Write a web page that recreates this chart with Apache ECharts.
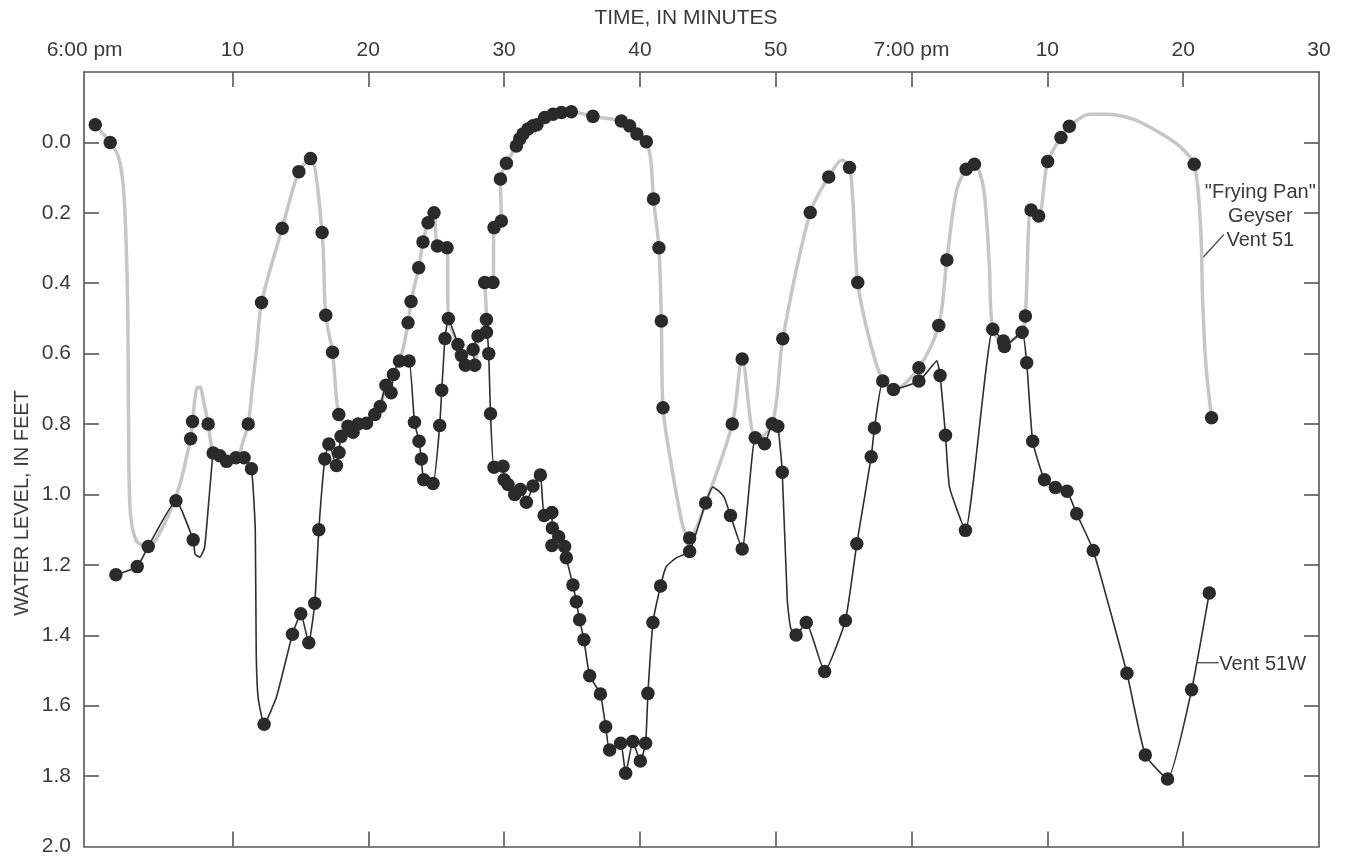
<!DOCTYPE html>
<html>
<head>
<meta charset="utf-8">
<title>Water level, Frying Pan Geyser</title>
<script src="https://cdn.jsdelivr.net/npm/echarts@6/dist/echarts.min.js"></script>
<style>
html,body{margin:0;padding:0;background:#fff;}
#chart{width:1349px;height:857px;}
</style>
</head>
<body>
<div id="chart"></div>
<script>
// ---------- DATA ----------
// x: minutes after 6:00 pm ; y: water level, in feet ; third value: 1 = plotted reading (dot), 0 = drawn curve only
const xLabelValues = [0, 10, 20, 30, 40, 50, 60, 70, 80, 90];
const xLabelTexts = ['6:00 pm', '10', '20', '30', '40', '50', '7:00 pm', '10', '20', '30'];
const xTickValues = [10, 20, 30, 40, 50, 60, 70, 80];
const yLabelValues = [0, 0.2, 0.4, 0.6, 0.8, 1.0, 1.2, 1.4, 1.6, 1.8, 2.0];
const yTickValues = [0, 0.2, 0.4, 0.6, 0.8, 1.0, 1.2, 1.4, 1.6, 1.8];

// "Frying Pan" Geyser, Vent 51 (grey curve)
const vent51Readings = [
  [-0.1,-0.05,1],[1.0,0.0,1],[1.6,0.04,0],[1.95,0.12,0],[2.15,0.26,0],[2.3,0.5,0],[2.37,0.9,0],
  [2.5,1.06,0],[2.9,1.13,0],[3.4,1.145,0],[3.8,1.148,0],[5.15,1.07,0],[6.1,0.975,0],[6.7,0.88,0],
  [6.92,0.842,1],[7.06,0.793,1],[7.35,0.70,0],[7.6,0.695,0],[7.9,0.74,0],[8.21,0.80,1],[8.4,0.85,0],
  [8.58,0.882,0],[9.07,0.89,0],[9.57,0.906,0],[10.25,0.896,0],[10.5,0.89,0],[10.7,0.86,0],
  [11.16,0.80,1],[11.45,0.70,0],[11.8,0.58,0],[12.14,0.455,1],[13.66,0.244,1],[14.89,0.083,1],
  [15.75,0.046,1],[16.6,0.256,1],[16.87,0.491,1],[17.37,0.596,1],[17.83,0.773,1],[18.51,0.806,0],
  [19.25,0.80,0],[19.87,0.798,0],[20.48,0.773,0],[20.88,0.75,0],[21.3,0.69,0],[21.85,0.659,0],
  [22.3,0.621,0],[22.6,0.58,0],[22.93,0.512,1],[23.15,0.452,1],[23.71,0.356,1],[24.03,0.283,1],
  [24.4,0.228,1],[24.84,0.20,1],[25.09,0.294,1],[25.8,0.299,1],[25.9,0.50,0],[26.6,0.574,0],
  [27.15,0.633,0],[27.84,0.633,0],[28.08,0.55,0],[28.7,0.503,0],[28.57,0.398,1],[29.18,0.398,1],
  [29.26,0.242,1],[29.8,0.223,1],[29.73,0.104,1],[30.17,0.059,1],[30.9,0.01,1],[31.15,-0.01,1],
  [31.39,-0.024,1],[31.76,-0.038,1],[32.13,-0.047,1],[32.42,-0.05,1],[32.99,-0.071,1],[33.6,-0.08,1],
  [34.22,-0.085,1],[34.95,-0.087,1],[36.54,-0.074,1],[38.63,-0.061,1],[39.24,-0.047,1],
  [39.78,-0.024,1],[40.47,-0.002,1],[40.8,0.05,0],[41.0,0.161,1],[41.4,0.299,1],[41.58,0.507,1],
  [41.7,0.754,1],[42.2,0.89,0],[43.16,1.09,0],[43.66,1.124,1],[44.84,1.024,0],[46.8,0.80,1],
  [47.53,0.615,1],[48.49,0.839,0],[49.18,0.83,0],[49.74,0.80,0],[50.1,0.72,0],[50.52,0.558,1],
  [52.54,0.199,1],[53.9,0.098,1],[54.9,0.05,0],[55.43,0.071,1],[55.67,0.16,0],[56.04,0.398,1],
  [56.9,0.56,0],[57.88,0.678,0],[58.67,0.702,0],[60.54,0.64,1],[62.0,0.52,1],[62.6,0.334,1],
  [63.3,0.14,0],[64.02,0.076,1],[64.63,0.062,1],[65.3,0.13,0],[65.73,0.351,0],[65.98,0.531,0],
  [66.8,0.57,0],[68.14,0.539,0],[68.38,0.493,1],[68.8,0.192,1],[69.36,0.209,1],[70.02,0.054,1],
  [71.0,-0.014,1],[71.62,-0.046,1],[73.1,-0.08,0],[74.3,-0.08,0],[76.3,-0.066,0],[78.24,-0.028,0],
  [79.7,0.01,0],[80.81,0.062,1],[81.3,0.256,0],[81.43,0.446,0],[81.68,0.635,0],[82.09,0.782,1]
];

// Vent 51W (black line)
const vent51WReadings = [
  [1.42,1.228,1],[2.99,1.205,1],[3.8,1.148,1],[5.84,1.018,1],[7.11,1.129,1],[7.25,1.17,0],
  [7.6,1.178,0],[7.95,1.15,0],[8.3,1.0,0],[8.5,0.91,0],[8.58,0.882,1],[9.07,0.89,1],[9.57,0.906,1],
  [10.25,0.896,1],[10.86,0.896,1],[11.4,0.927,1],[11.68,1.1,0],[11.75,1.45,0],[11.9,1.58,0],
  [12.33,1.653,1],[13.25,1.574,0],[14.42,1.397,1],[15.03,1.339,1],[15.62,1.421,1],[16.06,1.309,1],
  [16.36,1.10,1],[16.8,0.899,1],[17.1,0.857,1],[17.66,0.918,1],[17.85,0.881,1],[18.0,0.835,1],
  [18.51,0.806,1],[18.88,0.823,1],[19.25,0.80,1],[19.87,0.798,1],[20.48,0.773,1],[20.88,0.75,1],
  [21.3,0.69,1],[21.68,0.711,1],[21.85,0.659,1],[22.3,0.621,1],[23.0,0.621,1],[23.4,0.795,1],
  [23.74,0.849,1],[23.91,0.899,1],[24.08,0.958,1],[24.77,0.969,1],[25.26,0.804,1],[25.41,0.704,1],
  [25.65,0.557,1],[25.9,0.50,1],[26.6,0.574,1],[26.86,0.605,1],[27.15,0.633,1],[27.84,0.633,1],
  [27.72,0.588,1],[28.08,0.55,1],[28.7,0.539,1],[28.7,0.503,1],[28.87,0.60,1],[29.0,0.771,1],
  [29.26,0.923,1],[29.92,0.92,1],[30.0,0.958,1],[30.29,0.972,1],[30.78,1.0,1],[31.2,0.986,1],
  [31.64,1.022,1],[32.13,0.976,1],[32.67,0.945,1],[32.95,1.06,1],[33.52,1.051,1],[33.55,1.095,1],
  [34.02,1.12,1],[33.52,1.145,1],[34.46,1.148,1],[34.58,1.18,1],[35.07,1.257,1],[35.32,1.305,1],
  [35.56,1.356,1],[35.88,1.413,1],[36.3,1.515,1],[37.09,1.567,1],[37.48,1.66,1],[37.77,1.726,1],
  [38.58,1.707,1],[38.95,1.792,1],[39.48,1.702,1],[40.03,1.757,1],[40.42,1.707,1],[40.59,1.565,1],
  [40.96,1.364,1],[41.52,1.26,1],[41.94,1.205,0],[42.68,1.18,0],[43.66,1.162,1],[44.84,1.024,1],
  [45.37,0.979,0],[45.8,0.99,0],[46.23,1.01,0],[46.67,1.06,1],[47.53,1.155,1],[48.49,0.839,1],
  [49.18,0.856,1],[49.74,0.799,1],[50.15,0.806,1],[50.48,0.937,1],[50.85,1.3,0],[51.1,1.38,0],
  [51.5,1.399,1],[52.25,1.364,1],[53.6,1.503,1],[55.13,1.358,1],[55.97,1.14,1],[57.03,0.893,1],
  [57.27,0.811,1],[57.88,0.678,1],[58.67,0.702,1],[60.54,0.678,1],[61.3,0.645,0],[61.86,0.62,0],
  [62.1,0.662,1],[62.5,0.832,1],[62.8,0.98,0],[63.97,1.102,1],[65.98,0.531,1],[66.76,0.564,1],
  [66.84,0.58,1],[68.14,0.539,1],[68.48,0.626,1],[68.92,0.849,1],[69.78,0.958,1],[70.59,0.98,1],
  [71.45,0.991,1],[72.16,1.055,1],[73.38,1.159,1],[75.86,1.508,1],[77.21,1.74,1],[78.85,1.808,1],
  [80.62,1.555,1],[81.92,1.28,1]
];

// ---------- CHART ----------
const FONT = '"Liberation Sans", Arial, Helvetica, sans-serif';
const TEXT = '#3a3a3a';
const AXIS = '#555555';
const DOT = '#2a2a2a';

const chart = echarts.init(document.getElementById('chart'), null, {renderer: 'canvas'});

const curve = arr => arr.map(r => [r[0], r[1]]);
const dots = arr => arr.filter(r => r[2] === 1).map(r => [r[0], r[1]]);

const axisLineStyle = {show: true, onZero: false, lineStyle: {color: AXIS, width: 1.6}};
const tickStyle = {lineStyle: {color: AXIS, width: 1.6}};

chart.setOption({
  animation: false,
  backgroundColor: '#ffffff',
  grid: {left: 84, right: 30, top: 72, bottom: 10, containLabel: false},
  xAxis: [
    {
      type: 'value', position: 'top', min: -0.93, max: 90,
      axisLine: axisLineStyle,
      axisTick: Object.assign({show: true, inside: true, length: 15, customValues: xTickValues}, tickStyle),
      axisLabel: {
        show: true, customValues: xLabelValues, margin: 11,
        fontFamily: FONT, fontSize: 21, color: TEXT,
        formatter: v => {
          const i = Math.round(v / 10);
          return i === 0 ? '{shift|' + xLabelTexts[i] + '}' : xLabelTexts[i];
        },
        rich: {shift: {fontFamily: FONT, fontSize: 21, color: TEXT, padding: [0, 24, 0, 0]}}
      },
      splitLine: {show: false}
    },
    {
      type: 'value', position: 'bottom', min: -0.93, max: 90,
      axisLine: axisLineStyle,
      axisTick: Object.assign({show: true, inside: true, length: 15, customValues: xTickValues}, tickStyle),
      axisLabel: {show: false},
      splitLine: {show: false}
    }
  ],
  yAxis: [
    {
      type: 'value', position: 'left', inverse: true, min: -0.2, max: 2.0,
      axisLine: axisLineStyle,
      axisTick: Object.assign({show: true, inside: true, length: 15, customValues: yTickValues}, tickStyle),
      axisLabel: {
        show: true, customValues: yLabelValues, margin: 13,
        fontFamily: FONT, fontSize: 21, color: TEXT,
        formatter: v => v.toFixed(1)
      },
      splitLine: {show: false}
    },
    {
      type: 'value', position: 'right', inverse: true, min: -0.2, max: 2.0,
      axisLine: axisLineStyle,
      axisTick: Object.assign({show: true, inside: true, length: 15, customValues: yTickValues}, tickStyle),
      axisLabel: {show: false},
      splitLine: {show: false}
    }
  ],
  series: [
    {
      name: 'Vent 51', type: 'line', xAxisIndex: 0, yAxisIndex: 0,
      data: curve(vent51Readings), smooth: 0.3, symbol: 'none', z: 2,
      lineStyle: {color: '#c6c6c6', width: 3.5}
    },
    {
      name: 'Vent 51W', type: 'line', xAxisIndex: 0, yAxisIndex: 0,
      data: curve(vent51WReadings), smooth: 0.15, symbol: 'none', z: 3,
      lineStyle: {color: '#2e2e2e', width: 1.6}
    },
    {
      name: 'Vent 51 readings', type: 'scatter', xAxisIndex: 0, yAxisIndex: 0,
      data: dots(vent51Readings), symbol: 'circle', symbolSize: 13.5, z: 4,
      itemStyle: {color: DOT, opacity: 1}
    },
    {
      name: 'Vent 51W readings', type: 'scatter', xAxisIndex: 0, yAxisIndex: 0,
      data: dots(vent51WReadings), symbol: 'circle', symbolSize: 13.5, z: 4,
      itemStyle: {color: DOT, opacity: 1}
    }
  ]
});

// annotations, anchored in data space
const toPx = p => chart.convertToPixel({xAxisIndex: 0, yAxisIndex: 0}, p);
const fpText = toPx([85.68, 0.21]);
const fpFrom = toPx([81.33, 0.332]);
const fpTo = toPx([83.0, 0.262]);
const wText = toPx([82.66, 1.484]);
const wFrom = toPx([81.04, 1.478]);
const wTo = toPx([82.6, 1.478]);

chart.setOption({
  graphic: [
    {type: 'text', x: 686, y: 18,
      style: {text: 'TIME, IN MINUTES', font: '21px ' + FONT, fill: TEXT, align: 'center', verticalAlign: 'middle'}},
    {type: 'text', x: 22, y: 503, rotation: Math.PI / 2,
      style: {text: 'WATER LEVEL, IN FEET', font: '20px ' + FONT, fill: TEXT, align: 'center', verticalAlign: 'middle'}},
    {type: 'text', x: fpText[0], y: fpText[1],
      style: {text: '"Frying Pan"\nGeyser\nVent 51', font: '20px ' + FONT, fill: TEXT, align: 'center', verticalAlign: 'middle', lineHeight: 24}},
    {type: 'line', shape: {x1: fpFrom[0], y1: fpFrom[1], x2: fpTo[0], y2: fpTo[1]}, style: {stroke: '#444', lineWidth: 1.3}},
    {type: 'text', x: wText[0], y: wText[1],
      style: {text: 'Vent 51W', font: '20px ' + FONT, fill: TEXT, align: 'left', verticalAlign: 'middle'}},
    {type: 'line', shape: {x1: wFrom[0], y1: wFrom[1], x2: wTo[0], y2: wTo[1]}, style: {stroke: '#444', lineWidth: 1.3}}
  ]
});
</script>
</body>
</html>
